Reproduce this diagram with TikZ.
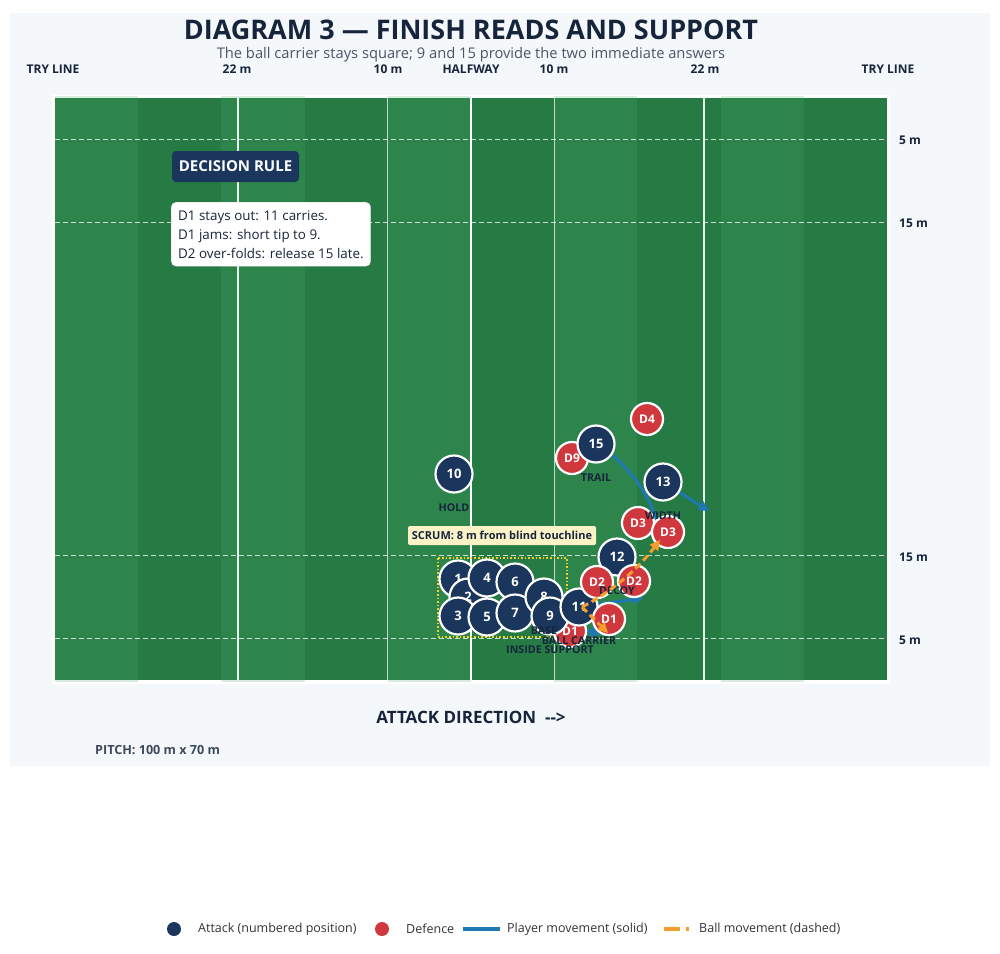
\documentclass[tikz,border=0pt]{standalone}
\usepackage{fontspec}
\setmainfont{Open Sans}
\usetikzlibrary{arrows.meta,positioning}

\definecolor{panelbg}{HTML}{F4F8FB}
\definecolor{grassdark}{HTML}{267A44}
\definecolor{grasslight}{HTML}{4CAF6A}
\definecolor{navy}{HTML}{1B365D}
\definecolor{defred}{HTML}{D0383E}
\definecolor{runblue}{HTML}{1F78B4}
\definecolor{ballorange}{HTML}{F59E2E}
\definecolor{inkdark}{HTML}{16253C}
\definecolor{inkgray}{HTML}{4A5568}
\definecolor{pitchgray}{HTML}{3D4A5C}
\definecolor{keygray}{HTML}{333333}
\definecolor{scrumyellow}{HTML}{F2D024}
\definecolor{notepale}{HTML}{FBF2C6}

\pgfdeclarelayer{pitch}
\pgfdeclarelayer{runs}
\pgfsetlayers{pitch,runs,main}

\newcommand{\fsz}[1]{\fontsize{#1}{#1}\selectfont}

\tikzset{
  attack/.style={circle,fill=navy,draw=white,line width=2.2pt,minimum size=37pt,
    inner sep=0pt,text=white,font=\fsz{13}\bfseries},
  defence/.style={circle,fill=defred,draw=white,line width=2.2pt,minimum size=32pt,
    inner sep=0pt,text=white,font=\fsz{12}\bfseries},
  role/.style={text=inkdark,font=\fsz{10.7}\bfseries,inner sep=0pt},
  run/.style={draw=runblue,line width=3pt,-{Triangle[length=10pt,width=10pt]}},
  pass/.style={draw=ballorange,line width=3pt,dash pattern=on 7pt off 4pt,
    -{Triangle[length=10pt,width=10pt]}},
  marker/.style={text=inkdark,font=\fsz{12}\bfseries,inner sep=0pt},
  metreline/.style={draw=white,opacity=0.75,line width=1.2pt,dash pattern=on 5pt off 3pt},
  legendtext/.style={text=keygray,font=\fsz{12.5},inner sep=0pt,anchor=west}
}

\begin{document}
\begin{tikzpicture}[x=1pt,y=-1pt]
\useasboundingbox (0,0) rectangle (1000,953);

% pitch
\begin{pgfonlayer}{pitch}
\fill[panelbg] (10,13) rectangle (990,766);
\fill[white] (52,95) rectangle (890,684);
\fill[grassdark] (55,98) rectangle (887,680);
\foreach \s in {0,2,...,8}
  \fill[grasslight,opacity=0.22] ({55+83.2*\s},96) rectangle ++(83.2,586);
\foreach \y in {139.6,222.7,555.3,638.4}
  \draw[metreline] (55,\y) -- (887,\y);
\foreach \x in {387.8,554.2}
  \draw[white,opacity=0.7,line width=1.3pt] (\x,98) -- (\x,680);
\foreach \x in {238,704}
  \draw[white,opacity=0.9,line width=2pt] (\x,98) -- (\x,680);
\draw[white,line width=2.6pt] (471,98) -- (471,680);
\end{pgfonlayer}

% titles and pitch markings
\node[text=inkdark,font=\fsz{27}\bfseries] (title) at (471,30) {DIAGRAM 3 — FINISH READS AND SUPPORT};
\node[text=inkgray,font=\fsz{14.7}] (subtitle) at (471,55) {The ball carrier stays square; 9 and 15 provide the two immediate answers};
\node[marker] (trylineL) at (53,69) {TRY LINE};
\node[marker] (twentytwoL) at (237,69) {22 m};
\node[marker] (tenL) at (388,69) {10 m};
\node[marker] (halfway) at (471,69) {HALFWAY};
\node[marker] (tenR) at (554,69) {10 m};
\node[marker] (twentytwoR) at (705,69) {22 m};
\node[marker] (trylineR) at (888,69) {TRY LINE};
\node[marker,anchor=west] (fiveT) at (899,140) {5 m};
\node[marker,anchor=west] (fifteenT) at (899,223) {15 m};
\node[marker,anchor=west] (fifteenB) at (899,557) {15 m};
\node[marker,anchor=west] (fiveB) at (899,640) {5 m};

% decision rule
\node[fill=navy,rounded corners=4pt,minimum width=127pt,minimum height=31pt,inner sep=0pt,
  text=white,font=\fsz{15}\bfseries] (rulehead) at (235.5,166.5) {DECISION RULE};
\node[fill=white,draw=black!15,rounded corners=5pt,anchor=north west,align=left,
  inner xsep=7pt,inner ysep=8pt,text=inkdark,font=\fontsize{13.4}{19}\selectfont] (rulebox) at (171,202)
  {D1 stays out: 11 carries.\\D1 jams: short tip to 9.\\D2 over-folds: release 15 late.};

% scrum
\draw[scrumyellow,line width=1.6pt,dotted] (438,558) rectangle (567,637);
\node[fill=notepale,rounded corners=2pt,minimum width=188pt,minimum height=19pt,inner sep=0pt,
  text=inkdark,font=\fsz{11}\bfseries] (scrumnote) at (502,535.5) {SCRUM: 8 m from blind touchline};

% players
\node[attack] (p1) at (458,579) {1};
\node[attack] (p2) at (468,597) {2};
\node[attack] (p3) at (458,616) {3};
\node[attack] (p4) at (487,578) {4};
\node[attack] (p5) at (487,617) {5};
\node[attack] (p6) at (515,582) {6};
\node[attack] (p7) at (515,613) {7};
\node[attack] (p8) at (544,597) {8};
\node[defence] (d1in) at (570,631) {D1};
\node[attack] (p9) at (550,616) {9};
\node[attack] (p11) at (579,607) {11};
\node[attack] (p10) at (454,474) {10};
\node[attack] (p12) at (617,557) {12};
\node[attack] (p13) at (663,482) {13};
\node[defence] (d9) at (572,458) {D9};
\node[attack] (p15) at (596,444) {15};
\node[defence] (d1) at (609,619) {D1};
\node[defence] (d2in) at (597,582) {D2};
\node[defence] (d2) at (634,581) {D2};
\node[defence] (d3in) at (638,523) {D3};
\node[defence] (d3) at (668,532) {D3};
\node[defence] (d4) at (647,419) {D4};

% roles
\node[role,below=10pt of p10] (hold) {HOLD};
\node[role,below=10pt of p15] (trail) {TRAIL};
\node[role,below=10pt of p13] (width) {WIDTH};
\node[role,below=10pt of p12] (decoy) {DECOY};
\node[role,below=10pt of p8] (base) {BASE};
\node[role,below=10pt of p11] (carrier) {BALL CARRIER};
\node[role,below=10pt of p9] (support) {INSIDE SUPPORT};

% runs
\coordinate (run15) at (660,530);
\coordinate (run13) at (709,511);
\coordinate (run11) at (643,598);
\coordinate (run9) at (600,635);
\begin{pgfonlayer}{runs}
\draw[run] (p15.center) .. controls (625,461) and (647,490) .. (run15);
\draw[run] (p13.center) -- (run13);
\draw[run] (p11.center) -- (run11);
\draw[run] (p9.center) -- (run9);
\end{pgfonlayer}

% ball
\coordinate (ballwide) at (660,540);
\coordinate (balltip) at (608,633);
\draw[pass] ([xshift=3pt]p11.center) .. controls (611,592) and (637,570) .. (ballwide);
\draw[pass] ([xshift=3pt]p11.center) -- (balltip);

% footer
\node[text=inkdark,font=\fsz{17}\bfseries] (attackdir) at (471,717) {ATTACK DIRECTION\ \ -{}-{}>};
\node[text=pitchgray,font=\fsz{12.6}\bfseries,anchor=west,inner sep=0pt] (pitchsize) at (95,750) {PITCH: 100 m x 70 m};

% legend
\node[circle,fill=navy,minimum size=14pt,inner sep=0pt] (keyattack) at (174,929) {};
\node[legendtext] (keyattacktext) at (198,929) {Attack (numbered position)};
\node[circle,fill=defred,minimum size=14pt,inner sep=0pt] (keydefence) at (382,929) {};
\node[legendtext] (keydefencetext) at (406,929) {Defence};
\draw[runblue,line width=4pt] (463,929) -- (500,929);
\node[legendtext] (keyruntext) at (507,929) {Player movement (solid)};
\draw[ballorange,line width=4pt,dash pattern=on 16pt off 6pt on 3pt off 20pt] (664,929) -- (689,929);
\node[legendtext] (keyballtext) at (699,929) {Ball movement (dashed)};
\end{tikzpicture}
\end{document}
